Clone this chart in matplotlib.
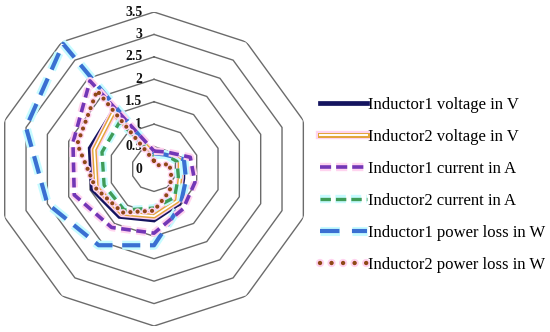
import matplotlib
matplotlib.use("Agg")
import matplotlib.pyplot as plt
import numpy as np
from matplotlib import patheffects as pe
from matplotlib.lines import Line2D

plt.rcParams['lines.scale_dashes'] = False

# ---- data (10 radar spokes, clockwise from top) ----
categories = ["C1", "C2", "C3", "C4", "C5", "C6", "C7", "C8", "C9", "C10"]
ind1_voltage = [0.35, 0.45, 0.68, 0.68, 0.95, 1.14, 1.31, 1.45, 1.50, 1.57]
ind2_voltage = [0.33, 0.42, 0.61, 0.61, 0.88, 1.05, 1.22, 1.35, 1.40, 1.55]
ind1_current = [0.40, 0.47, 0.85, 0.96, 1.10, 1.43, 1.61, 1.87, 1.90, 2.43]
ind2_current = [0.30, 0.40, 0.54, 0.57, 0.78, 0.87, 1.13, 1.17, 1.22, 1.30]
ind1_loss = [0.35, 0.40, 0.70, 0.75, 1.00, 1.70, 2.10, 2.50, 3.00, 3.45]
ind2_loss = [0.18, 0.10, 0.36, 0.40, 0.60, 0.93, 1.20, 1.37, 1.80, 2.16]
ring_ticks = [0, 0.5, 1, 1.5, 2, 2.5, 3, 3.5]
tick_labels = ["0", "0.5", "1", "1.5", "2", "2.5", "3", "3.5"]
series_labels = ["Inductor1 voltage in V", "Inductor2 voltage in V",
                 "Inductor1 current in A", "Inductor2 current in A",
                 "Inductor1 power loss in W", "Inductor2 power loss in W"]

serif = "Liberation Serif"
fig = plt.figure(figsize=(5.5, 3.32), dpi=100)
ax = fig.add_axes([-0.00545, 0.018, 0.571, 0.9458], projection="polar")
ax.set_theta_zero_location("N")
ax.set_theta_direction(-1)
ax.set_ylim(0, 3.5)
ax.grid(False)
ax.set_xticks([])
ax.set_yticks([])
ax.spines["polar"].set_visible(False)
ax.patch.set_alpha(0)

n = len(categories)
angles = np.linspace(0, 2 * np.pi, n, endpoint=False)
closed = np.append(angles, angles[0])

def close(v):
    return np.append(v, v[0])

# decagon grid rings
for r in ring_ticks[1:]:
    ax.plot(closed, [r] * (n + 1), color="#6b6b6b", lw=1.0, zorder=1)

for r, lab in zip(ring_ticks, tick_labels):
    ax.annotate(lab, xy=(0, r), xytext=(-8.5, 0), textcoords="offset points",
                ha="right", va="center", fontsize=9.8, fontweight="bold",
                family=serif, color="#111111", zorder=2)

pink = "#ffd3ef"
cyan = "#c6fbff"

def halo(color, w):
    return [pe.Stroke(linewidth=w, foreground=color), pe.Normal()]

navy = "#14145f"
orange = "#e2a53c"
purple = "#7336b6"
green = "#3f9c58"
blue = "#3a70d2"
brown = "#8f4816"

h1, = ax.plot(closed, close(ind1_voltage), color=navy, lw=3.2, zorder=3,
              solid_joinstyle="miter")
h2o, = ax.plot(closed, close(ind2_voltage), color=orange, lw=3.4, zorder=4,
               path_effects=halo(pink, 5.5))
h2w, = ax.plot(closed, close(ind2_voltage), color="white", lw=1.3, zorder=4.1)
h3, = ax.plot(closed, close(ind1_current), color=purple, lw=2.6, zorder=6,
              dashes=(7, 4), path_effects=halo(pink, 5.5))
h4, = ax.plot(closed, close(ind2_current), color=green, lw=2.4, zorder=5,
              dashes=(7, 4.5), path_effects=halo(cyan, 5.5))
h5, = ax.plot(closed, close(ind1_loss), color=blue, lw=3.0, zorder=5.5,
              dashes=(13, 7), path_effects=halo(cyan, 6.5))
h6, = ax.plot(closed, close(ind2_loss), color=brown, lw=3.0, zorder=7,
              dashes=(0.01, 5.2), dash_capstyle="round",
              path_effects=halo(pink, 5.0))

# legend handles (orange double line as overlay tuple)
l1 = Line2D([], [], color=navy, lw=3.4)
l2a = Line2D([], [], color=orange, lw=3.6, path_effects=halo(pink, 6))
l2b = Line2D([], [], color="white", lw=1.4)
l3 = Line2D([], [], color=purple, lw=2.6, dashes=(8, 3.6), path_effects=halo(pink, 6))
l4 = Line2D([], [], color=green, lw=2.4, dashes=(7.5, 3.6), path_effects=halo(cyan, 6))
l5 = Line2D([], [], color=blue, lw=3.0, dashes=(14, 9), path_effects=halo(cyan, 6.5))
l6 = Line2D([], [], color=brown, lw=3.2, dashes=(0.01, 8.3), dash_capstyle="round",
            path_effects=halo(pink, 6))

leg = fig.legend([l1, (l2a, l2b), l3, l4, l5, l6], series_labels,
                 loc="upper left", bbox_to_anchor=(0.582, 0.708),
                 frameon=False, prop={"family": serif, "size": 12},
                 handlelength=2.8, handletextpad=0.1, labelspacing=0.96,
                 borderpad=0, borderaxespad=0)

fig.savefig("out.png", dpi=100)
